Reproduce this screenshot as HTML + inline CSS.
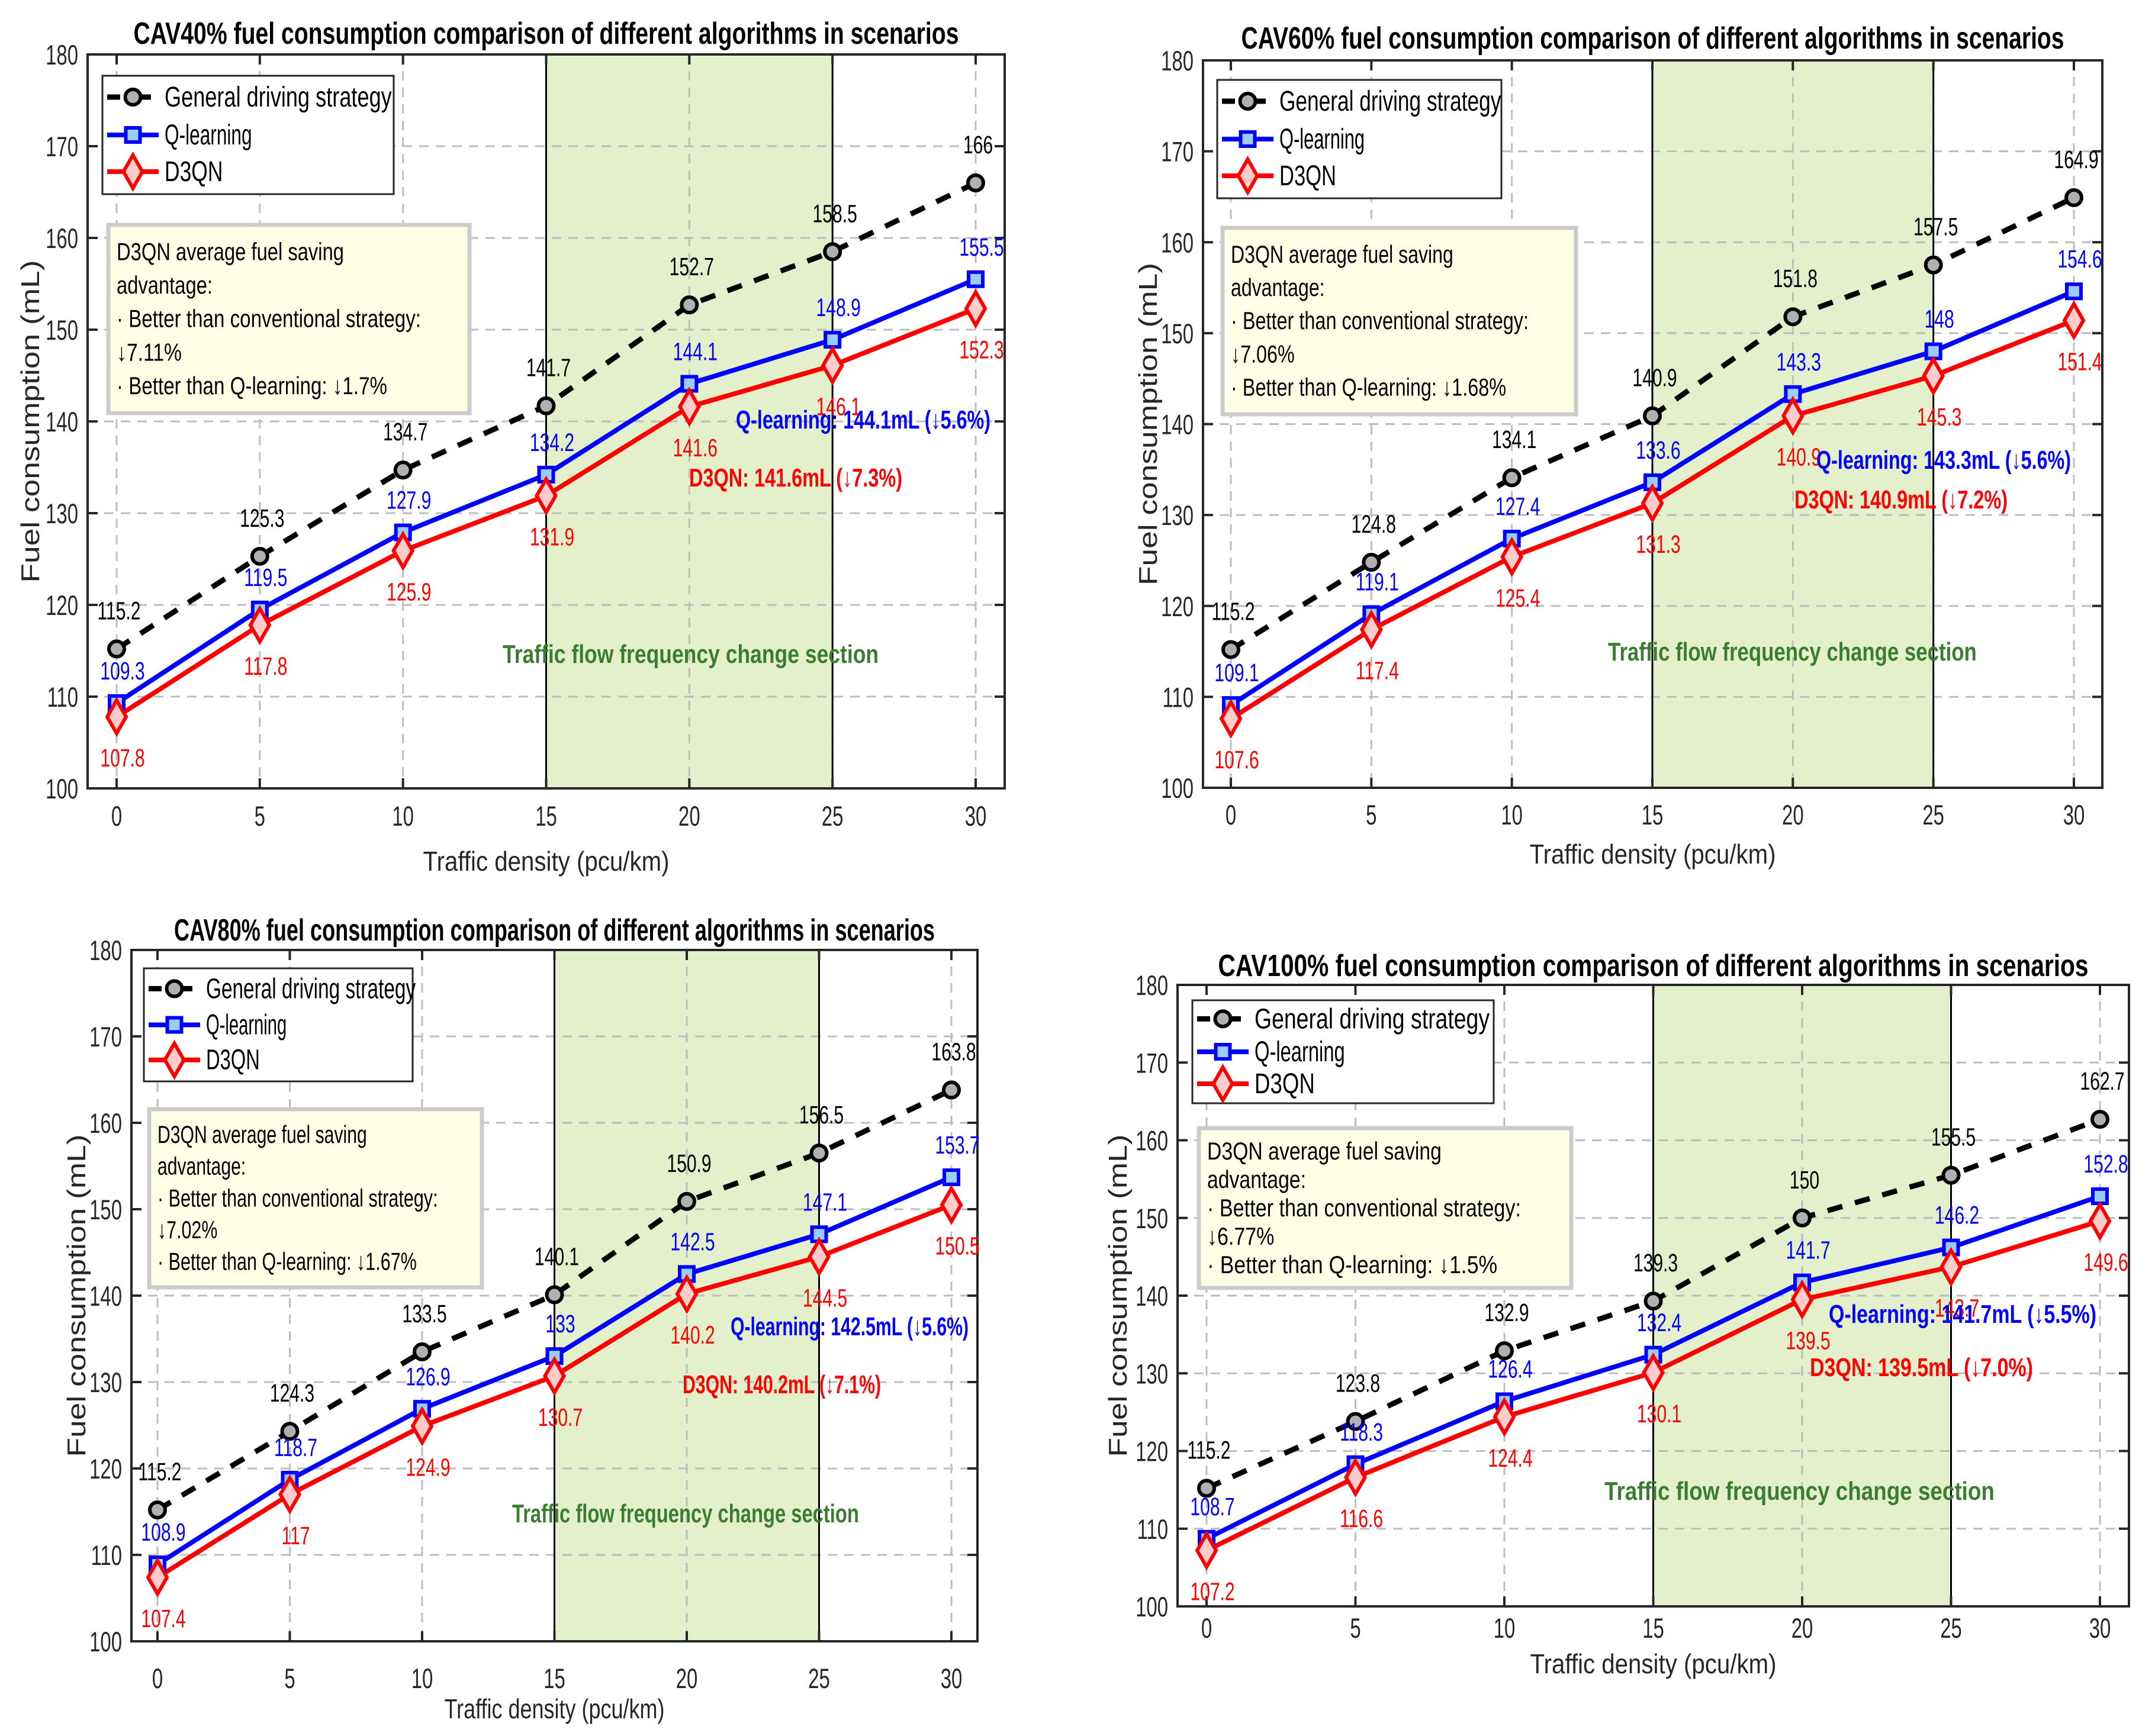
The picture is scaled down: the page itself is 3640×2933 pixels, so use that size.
<!DOCTYPE html>
<html><head><meta charset="utf-8"><style>
html,body{margin:0;padding:0;background:#fff}
svg{display:block}
text{font-family:"Liberation Sans",Arial,sans-serif}
</style></head><body>
<svg id="fig" width="3640" height="2933" viewBox="0 0 3640 2933" xmlns="http://www.w3.org/2000/svg"></svg>
<script>
const xCategories=[0,5,10,15,20,25,30];
const yTicks=[100,110,120,130,140,150,160,170,180];
const g40=[115.2,125.3,134.7,141.7,152.7,158.5,166];
const q40=[109.3,119.5,127.9,134.2,144.1,148.9,155.5];
const d40=[107.8,117.8,125.9,131.9,141.6,146.1,152.3];
const g60=[115.2,124.8,134.1,140.9,151.8,157.5,164.9];
const q60=[109.1,119.1,127.4,133.6,143.3,148,154.6];
const d60=[107.6,117.4,125.4,131.3,140.9,145.3,151.4];
const g80=[115.2,124.3,133.5,140.1,150.9,156.5,163.8];
const q80=[108.9,118.7,126.9,133,142.5,147.1,153.7];
const d80=[107.4,117,124.9,130.7,140.2,144.5,150.5];
const g100=[115.2,123.8,132.9,139.3,150,155.5,162.7];
const q100=[108.7,118.3,126.4,132.4,141.7,146.2,152.8];
const d100=[107.2,116.6,124.4,130.1,139.5,143.7,149.6];
const cavLabels=["CAV40%","CAV60%","CAV80%","CAV100%"];
const savingConv=["7.11%","7.06%","7.02%","6.77%"];
const savingQ=["1.7%","1.68%","1.67%","1.5%"];
const qAt20=["144.1mL (↓5.6%)","143.3mL (↓5.6%)","142.5mL (↓5.6%)","141.7mL (↓5.5%)"];
const dAt20=["141.6mL (↓7.3%)","140.9mL (↓7.2%)","140.2mL (↓7.1%)","139.5mL (↓7.0%)"];

const NS="http://www.w3.org/2000/svg";
const svg=document.getElementById('fig');
function el(tag,attrs,parent){const e=document.createElementNS(NS,tag);for(const k in attrs)e.setAttribute(k,attrs[k]);(parent||svg).appendChild(e);return e;}
function txt(parent,x,y,s,size,fill,anchor,weight,len,sx){
  const g=el('g',{transform:'translate('+x+','+y+') scale('+(sx||0.7)+',1)'},parent);
  const a={x:0,y:0,'font-size':size,fill:fill,'text-anchor':anchor||'middle','font-weight':weight||'normal'};
  if(len){a.textLength=len;a.lengthAdjust='spacingAndGlyphs';g.setAttribute('transform','translate('+x+','+y+')');}
  const t=el('text',a,g);t.textContent=s;return t;
}
const layouts=[
 {L:148,R:1697,T:92,B:1332,x0:197,x30:1648,ttlY:74,xlY:1455,tickY:1378,ylX:52,
  leg:[173,128,492,200],ann:[183,380,610,318],blue:[1243,724],red:[1164,822],green:[849,1120]},
 {L:2032,R:3551,T:102,B:1331,x0:2079,x30:3503,ttlY:82,xlY:1443,tickY:1376,ylX:1940,
  leg:[2056,135,480,200],ann:[2065,385,597,315],blue:[3068,792],red:[3031,859],green:[2716,1116]},
 {L:222,R:1651,T:1605,B:2773,x0:266,x30:1607,ttlY:1589,xlY:2887,tickY:2835,ylX:130,
  leg:[243,1636,454,191],ann:[252,1874,562,301],blue:[1234,2256],red:[1153,2354],green:[865,2572]},
 {L:1989,R:3596,T:1664,B:2714,x0:2038,x30:3547,ttlY:1649,xlY:2811,tickY:2750,ylX:1889,
  leg:[2014,1690,509,174],ann:[2025,1906,629,270],blue:[3089,2235],red:[3057,2325],green:[2710,2534]}
];
const series=[[g40,q40,d40],[g60,q60,d60],[g80,q80,d80],[g100,q100,d100]];
const titleW=[1394,1390,1285,1470];

function circle(p,x,y){el('circle',{cx:x,cy:y,r:13,fill:'#b0b0b0',stroke:'#000','stroke-width':6},p);}
function square(p,x,y){el('rect',{x:x-12,y:y-12,width:24,height:24,fill:'#99ccff',stroke:'#0000ff','stroke-width':6},p);}
function diamond(p,x,y){el('polygon',{points:(x)+','+(y-28)+' '+(x+16)+','+y+' '+x+','+(y+28)+' '+(x-16)+','+y,fill:'#ffcccc',stroke:'#ff0000','stroke-width':6},p);}

layouts.forEach((c,ci)=>{
  const g=el('g',{});
  
  
  const xs=v=>c.x0+(v-0)*(c.x30-c.x0)/30;
  const ys=v=>c.B-(v-100)*(c.B-c.T)/80;
  const band=el('rect',{x:xs(15),y:c.T,width:xs(25)-xs(15),height:c.B-c.T,fill:'#e4f0cc'},g);
  
  
  const grid=el('g',{stroke:'#bdbdbd','stroke-width':3,'stroke-dasharray':'16,12'},g);
  
  
  yTicks.forEach(v=>{if(v>100&&v<180)el('line',{x1:c.L,x2:c.R,y1:ys(v),y2:ys(v)},grid);});
  xCategories.forEach(v=>{el('line',{x1:xs(v),x2:xs(v),y1:c.T,y2:c.B},grid);});
  el('line',{x1:xs(15),x2:xs(15),y1:c.T,y2:c.B,stroke:'#000','stroke-width':3},g);
  el('line',{x1:xs(25),x2:xs(25),y1:c.T,y2:c.B,stroke:'#000','stroke-width':3},g);
  const box=el('rect',{x:c.L,y:c.T,width:c.R-c.L,height:c.B-c.T,fill:'none',stroke:'#262626','stroke-width':4},g);
  
  
  const ticks=el('g',{stroke:'#262626','stroke-width':4},g);
  yTicks.forEach(v=>{el('line',{x1:c.L,x2:c.L+17,y1:ys(v),y2:ys(v)},ticks);el('line',{x1:c.R,x2:c.R-17,y1:ys(v),y2:ys(v)},ticks);});
  xCategories.forEach(v=>{el('line',{x1:xs(v),x2:xs(v),y1:c.B,y2:c.B-17},ticks);el('line',{x1:xs(v),x2:xs(v),y1:c.T,y2:c.T+17},ticks);});
  yTicks.forEach(v=>{const t=txt(g,c.L-16,ys(v)+17,String(v),47,'#262626','end');});
  xCategories.forEach(v=>{const t=txt(g,xs(v),c.tickY+17,String(v),47,'#262626','middle');});
  const cx=(c.L+c.R)/2;
  const tt=txt(g,cx,c.ttlY,cavLabels[ci]+' fuel consumption comparison of different algorithms in scenarios',52,'#000','middle','bold',titleW[ci]);
  
  const xl=txt(g,cx,c.xlY+16,'Traffic density  (pcu/km)',46,'#262626','middle','normal',ci==2?372:416);
  
  const ylg=el('g',{transform:'translate('+c.ylX+','+((c.T+c.B)/2)+') rotate(-90)'},g);
  const yl=el('text',{x:0,y:14,'font-size':44,fill:'#262626','text-anchor':'middle',textLength:545,lengthAdjust:'spacingAndGlyphs'},ylg);
  yl.textContent='Fuel consumption (mL)';
  
  const gt=txt(g,c.green[0],c.green[1],'Traffic flow frequency change section',44,'#3a7d30','start','bold',(c.R-c.L)*0.41);
  
  const [G,Q,D]=series[ci];
  const pts=a=>a.map((v,i)=>xs(xCategories[i])+','+ys(v)).join(' ');
  const lg=el('polyline',{points:pts(G),fill:'none',stroke:'#000','stroke-width':9,'stroke-dasharray':'26,22'},g);
  
  const lq=el('polyline',{points:pts(Q),fill:'none',stroke:'#0000ff','stroke-width':8},g);
  
  const ld=el('polyline',{points:pts(D),fill:'none',stroke:'#ff0000','stroke-width':8},g);
  
  G.forEach((v,i)=>{circle(g,xs(xCategories[i]),ys(v));const t=txt(g,xs(xCategories[i])+4,ys(v)-50,String(v),43,'#000','middle');});
  Q.forEach((v,i)=>{square(g,xs(xCategories[i]),ys(v));const t=txt(g,xs(xCategories[i])+10,ys(v)-40,String(v),43,'#0000ff','middle');});
  D.forEach((v,i)=>{diamond(g,xs(xCategories[i]),ys(v));const t=txt(g,xs(xCategories[i])+10,ys(v)+84,String(v),43,'#ff0000','middle');});
  const bt=txt(g,c.blue[0],c.blue[1],'Q-learning: '+qAt20[ci],44,'#0000ff','start','bold',ci==2?402:(ci==3?452:430));
  
  const rt=txt(g,c.red[0],c.red[1],'D3QN: '+dAt20[ci],44,'#ff0000','start','bold',ci==2?335:(ci==3?377:360));
  
  const [lx,ly,lw,lh]=c.leg;
  const leg=el('g',{},g);
  
  el('rect',{x:lx,y:ly,width:lw,height:lh,fill:'#fff',stroke:'#262626','stroke-width':3},leg);
  const names=['General driving strategy','Q-learning','D3QN'];
  const lens=[lw*0.78,lw*0.3,lw*0.2];
  [0.18,0.5,0.81].forEach((f,k)=>{
    const yy=ly+lh*f, x1=lx+8, x2=lx+95;
    const row=el('g',{},leg);
    
    if(k==0){el('line',{x1:x1,x2:x2,y1:yy,y2:yy,stroke:'#000','stroke-width':9,'stroke-dasharray':'22,30'},row);circle(row,(x1+x2)/2,yy);}
    if(k==1){el('line',{x1:x1,x2:x2,y1:yy,y2:yy,stroke:'#0000ff','stroke-width':8},row);square(row,(x1+x2)/2,yy);}
    if(k==2){el('line',{x1:x1,x2:x2,y1:yy,y2:yy,stroke:'#ff0000','stroke-width':8},row);diamond(row,(x1+x2)/2,yy);}
    txt(row,lx+105,yy+16,names[k],48,'#000','start','normal',lens[k]);
  });
  const [ax,ay,aw,ah]=c.ann;
  const an=el('g',{},g);
  
  el('rect',{x:ax,y:ay,width:aw,height:ah,fill:'#ffffe6',stroke:'#cccccc','stroke-width':7},an);
  const lines=['D3QN average fuel saving','advantage:','· Better than conventional strategy:','↓'+savingConv[ci],'· Better than Q-learning: ↓'+savingQ[ci]];
  const lw2=[384,162,514,110,457];
  lines.forEach((s,k)=>{
    txt(an,ax+14,ay+ah*0.14+ah*0.178*k+15,s,42,'#000','start','normal',lw2[k]*(aw/610)*(k==4&&ci>0?1.04:1));
  });
});
</script>
</body></html>
